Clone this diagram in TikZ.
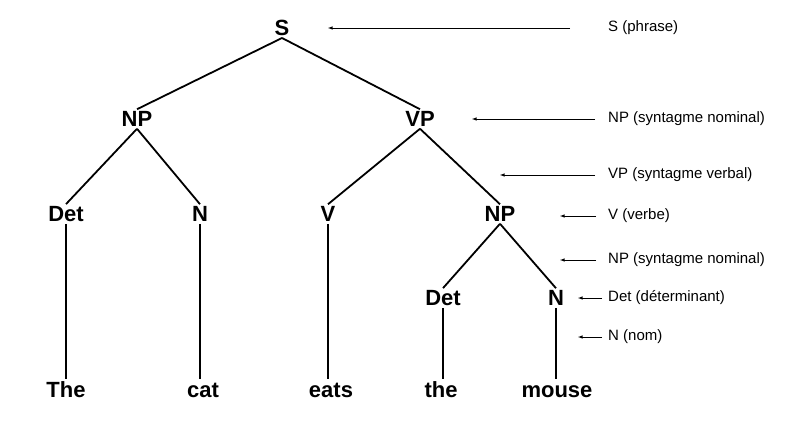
\documentclass[tikz,border=0pt]{standalone}
\usepackage{fontspec}
\setmainfont{Liberation Sans}
\begin{document}
\begin{tikzpicture}[x=1pt,y=-1pt,
  cat/.style={font=\fontsize{22}{24}\selectfont\bfseries,inner sep=2pt},
  word/.style={font=\fontsize{22}{24}\selectfont\bfseries,inner sep=2pt,text height=16pt,text depth=5pt},
  lab/.style={font=\fontsize{15}{17}\selectfont,anchor=west,inner sep=0pt},
  edge/.style={line width=1.8pt},
  pt/.style={-latex,line width=0.6pt}]
\useasboundingbox (0,0) rectangle (800,439);
\node[cat] (S) at (282,28) {S};
\node[cat] (NP1) at (137,119) {NP};
\node[cat] (VP) at (420,119) {VP};
\node[cat] (Det1) at (66,214) {Det};
\node[cat] (N1) at (200,214) {N};
\node[cat] (V) at (328,214) {V};
\node[cat] (NP2) at (500,214) {NP};
\node[cat] (Det2) at (443,298) {Det};
\node[cat] (N2) at (556,298) {N};
\node[word] (w1) at (66,392) {The};
\node[word] (w2) at (203,392) {cat};
\node[word] (w3) at (331,392) {eats};
\node[word] (w4) at (441,392) {the};
\node[word] (w5) at (557,392) {mouse};
\draw[edge] (S.south) -- (NP1.north);
\draw[edge] (S.south) -- (VP.north);
\draw[edge] (NP1.south) -- (Det1.north);
\draw[edge] (NP1.south) -- (N1.north);
\draw[edge] (VP.south) -- (V.north);
\draw[edge] (VP.south) -- (NP2.north);
\draw[edge] (NP2.south) -- (Det2.north);
\draw[edge] (NP2.south) -- (N2.north);
\draw[edge] (Det1.south) -- (Det1.south |- w1.north);
\draw[edge] (N1.south) -- (N1.south |- w2.north);
\draw[edge] (V.south) -- (V.south |- w3.north);
\draw[edge] (Det2.south) -- (Det2.south |- w4.north);
\draw[edge] (N2.south) -- (N2.south |- w5.north);
\node[lab] (l1) at (608,28) {S (phrase)};
\node[lab] (l2) at (608,119) {NP (syntagme nominal)};
\node[lab] (l3) at (608,175) {VP (syntagme verbal)};
\node[lab] (l4) at (608,216) {V (verbe)};
\node[lab] (l5) at (608,260) {NP (syntagme nominal)};
\node[lab] (l6) at (608,298) {Det (déterminant)};
\node[lab] (l7) at (608,337) {N (nom)};
\coordinate (a1) at (328,28); \coordinate (a2) at (472,119);
\coordinate (a3) at (500,175); \coordinate (a4) at (560,216);
\coordinate (a5) at (560,260); \coordinate (a6) at (578,298);
\coordinate (a7) at (578,337);
\draw[pt] ([xshift=-38pt]l1.west) -- (a1);
\draw[pt] ([xshift=-13pt]l2.west) -- (a2);
\draw[pt] ([xshift=-13pt]l3.west) -- (a3);
\draw[pt] ([xshift=-12pt]l4.west) -- (a4);
\draw[pt] ([xshift=-12pt]l5.west) -- (a5);
\draw[pt] ([xshift=-6pt]l6.west) -- (a6);
\draw[pt] ([xshift=-6pt]l7.west) -- (a7);
\end{tikzpicture}
\end{document}
